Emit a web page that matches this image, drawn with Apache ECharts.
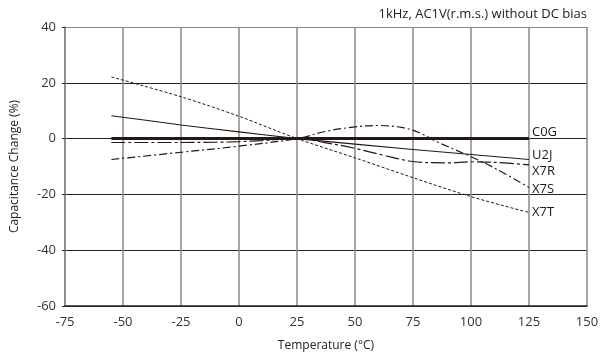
<!DOCTYPE html>
<html>
<head>
<meta charset="utf-8">
<script src="https://cdn.jsdelivr.net/npm/echarts@6/dist/echarts.min.js"></script>
<style>
  html, body { margin: 0; padding: 0; background: #fff; }
  #chart { width: 602px; height: 358px; }
</style>
</head>
<body>
<div id="chart"></div>
<script>
// temperature (°C) / capacitance change (%)
const c0gTemp = [-55, 125];
const c0gVal = [0, 0];

const u2jTemp = [-55, -25, 0, 25, 75, 125];
const u2jVal = [8.2, 4.9, 2.4, 0, -3.9, -7.5];

const x7rTemp = [-55, -25, -10, 0, 10, 25, 37.5, 50, 62.5, 75, 90, 100, 110, 125];
const x7rVal = [-1.4, -1.4, -1.3, -1.1, -0.7, 0, -1.5, -3.5, -6, -8.2, -8.7, -8.3, -8.5, -9.4];

const x7sTemp = [-55, -25, 0, 25, 37.5, 50, 60, 70, 77.5, 85, 100, 110, 125];
const x7sVal = [-7.5, -4.9, -2.7, 0, 2.6, 4.2, 4.7, 4.0, 2.2, -1, -6.5, -10.5, -17.5];

const x7tTemp = [-55, -25, 0, 25, 50, 75, 100, 125];
const x7tVal = [22.1, 15, 8, 0, -6.9, -14, -20.8, -26.5];

const xTicks = [-75, -50, -25, 0, 25, 50, 75, 100, 125, 150];
const yTicks = [-60, -40, -20, 0, 20, 40];

const ink = "#231815";
const fontFam = "'Open Sans', 'Noto Sans', sans-serif";

const pairs = (t, v) => t.map((x, i) => [x, v[i]]);

const curve = (name, t, v, width, dash, smooth, labelOffset) => ({
  name: name,
  type: "line",
  data: pairs(t, v),
  smooth: smooth,
  symbol: "none",
  silent: true,
  lineStyle: { color: ink, width: width, type: dash },
  endLabel: {
    show: true,
    formatter: "{a}",
    color: "#1a1a1a",
    fontSize: 13,
    fontFamily: fontFam,
    distance: 3,
    offset: [0, labelOffset],
  },
});

const chart = echarts.init(document.getElementById("chart"), null, { renderer: "canvas" });

chart.setOption({
  animation: false,
  backgroundColor: "#fff",
  title: {
    text: "1kHz, AC1V(r.m.s.) without DC bias",
    right: 10,
    top: 3,
    textStyle: { fontSize: 13, fontWeight: "normal", color: "#222", fontFamily: fontFam },
  },
  grid: { left: 65, right: 15, top: 27, bottom: 52 },
  xAxis: {
    type: "value",
    min: xTicks[0],
    max: xTicks[xTicks.length - 1],
    interval: 25,
    name: "Temperature (°C)",
    nameLocation: "middle",
    nameGap: 34,
    nameTextStyle: { fontSize: 12, color: "#222", fontFamily: fontFam },
    axisLine: { onZero: false, lineStyle: { color: "#2a2220", width: 1.5 } },
    axisTick: { show: false },
    axisLabel: { margin: 10, fontSize: 13, color: "#333", fontFamily: fontFam },
    splitLine: { show: true, lineStyle: { color: "#8c8784", width: 1.5 } },
  },
  yAxis: {
    type: "value",
    min: yTicks[0],
    max: yTicks[yTicks.length - 1],
    interval: 20,
    name: "Capacitance Change (%)",
    nameLocation: "middle",
    nameGap: 44,
    nameTextStyle: { fontSize: 12, color: "#222", fontFamily: fontFam },
    axisLine: { show: true, onZero: false, lineStyle: { color: "#8c8784", width: 1.5 } },
    axisTick: { show: true, length: 3, lineStyle: { color: "#2a2220" } },
    axisLabel: { margin: 9, fontSize: 13, color: "#333", fontFamily: fontFam },
    splitLine: {
      show: true,
      lineStyle: {
        color: ["#2a2220", "#2a2220", "#2a2220", "#2a2220", "#2a2220", "#8c8784"],
        width: 1.2,
      },
    },
  },
  series: [
    curve("X7T", x7tTemp, x7tVal, 1, [3, 2], 0.3, 0),
    curve("X7S", x7sTemp, x7sVal, 1.2, [8, 3, 2, 3], 0.35, 2),
    curve("X7R", x7rTemp, x7rVal, 1.2, [14, 3, 3, 3], 0.35, 6),
    curve("U2J", u2jTemp, u2jVal, 1.1, "solid", 0.2, -4),
    curve("C0G", c0gTemp, c0gVal, 3, "solid", false, -6),
  ],
});
</script>
</body>
</html>
